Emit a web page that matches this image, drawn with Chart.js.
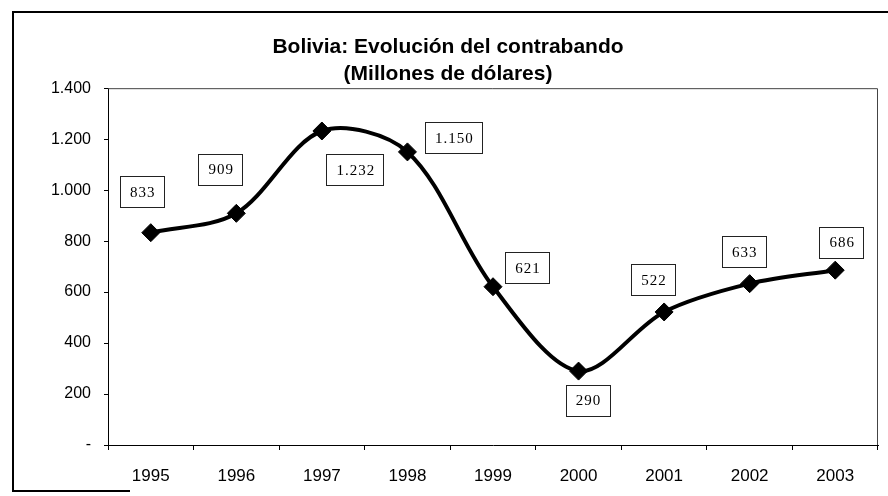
<!DOCTYPE html>
<html>
<head>
<meta charset="utf-8">
<script src="https://cdn.jsdelivr.net/npm/chart.js@4.4.1/dist/chart.umd.min.js"></script>
<style>
  html, body { margin: 0; padding: 0; background: #fff; }
  #wrap { width: 888px; height: 496px; }
</style>
</head>
<body>
<div id="wrap"><canvas id="chart" width="888" height="496"></canvas></div>
<script>
// datos del grafico
const years = ["1995", "1996", "1997", "1998", "1999", "2000", "2001", "2002", "2003"];
const contrabando = [833, 909, 1232, 1150, 621, 290, 522, 633, 686];
const yTicks = [0, 200, 400, 600, 800, 1000, 1200, 1400];
const titleLines = ["Bolivia: Evolución del contrabando", "(Millones de dólares)"];

// donde va cada cajita de valor respecto a su punto (px)
const labelOffsets = [[-9, -41], [-16, -44], [33, 39], [46, -14], [34, -19], [9, 29], [-11, -32], [-6, -32], [6, -28]];

const sans = '"Liberation Sans", Arial, sans-serif';
const serif = '"Liberation Serif", "Times New Roman", serif';

// 1.232 estilo espanol, el cero como guion
function fmt(v) {
  if (v === 0) return "-";
  return String(v).replace(/\B(?=(\d{3})+(?!\d))/g, ".");
}

// marco exterior + fondo blanco
const framePlugin = {
  id: "frame",
  beforeDraw(chart) {
    const ctx = chart.ctx;
    ctx.save();
    ctx.fillStyle = "#fff";
    ctx.fillRect(0, 0, chart.width, chart.height);
    ctx.strokeStyle = "#000";
    ctx.lineWidth = 2;
    ctx.beginPath();
    ctx.moveTo(888, 12);
    ctx.lineTo(13, 12);
    ctx.lineTo(13, 491);
    ctx.lineTo(130, 491);
    ctx.stroke();
    ctx.restore();
  }
};

// lados superior y derecho del area de trazado
const plotBorder = {
  id: "plotBorder",
  beforeDatasetsDraw(chart) {
    const { ctx, chartArea: a } = chart;
    ctx.save();
    ctx.strokeStyle = "#444";
    ctx.lineWidth = 1;
    ctx.beginPath();
    ctx.moveTo(a.left, a.top + 0.5);
    ctx.lineTo(a.right - 0.5, a.top + 0.5);
    ctx.lineTo(a.right - 0.5, a.bottom);
    ctx.stroke();
    ctx.restore();
  }
};

// etiquetas de valor en cajitas
const valueBoxes = {
  id: "valueBoxes",
  afterDatasetsDraw(chart) {
    const ctx = chart.ctx;
    const meta = chart.getDatasetMeta(0);
    ctx.save();
    ctx.font = "15px " + serif;
    if ("letterSpacing" in ctx) ctx.letterSpacing = "1px";
    ctx.textAlign = "center";
    ctx.textBaseline = "middle";
    meta.data.forEach((pt, i) => {
      const txt = fmt(contrabando[i]);
      const [dx, dy] = labelOffsets[i];
      const cx = pt.x + dx, cy = pt.y + dy;
      const w = Math.round(ctx.measureText(txt).width + 18);
      const h = 31;
      const x0 = Math.round(cx - w / 2) + 0.5, y0 = Math.round(cy - h / 2) + 0.5;
      ctx.fillStyle = "#fff";
      ctx.fillRect(x0, y0, w, h);
      ctx.strokeStyle = "#222";
      ctx.lineWidth = 1;
      ctx.strokeRect(x0, y0, w, h);
      ctx.fillStyle = "#000";
      ctx.fillText(txt, cx + 1, cy + 1);
    });
    ctx.restore();
  }
};

new Chart(document.getElementById("chart"), {
  type: "line",
  data: {
    labels: years,
    datasets: [{
      data: contrabando,
      borderColor: "#000",
      borderWidth: 4,
      tension: 0.32,
      fill: false,
      pointStyle: "rectRot",
      pointRadius: 9,
      pointBackgroundColor: "#000",
      pointBorderColor: "#000",
      pointBorderWidth: 1,
      clip: false
    }]
  },
  options: {
    responsive: false,
    animation: false,
    devicePixelRatio: 1,
    layout: { padding: { left: 14, right: 6, top: 34, bottom: 0 } },
    plugins: {
      legend: { display: false },
      tooltip: { enabled: false },
      title: {
        display: true,
        text: titleLines,
        color: "#000",
        font: { family: sans, size: 21, weight: "bold", lineHeight: 1.29 },
        padding: { top: 0, bottom: 0 }
      }
    },
    scales: {
      x: {
        offset: true,
        grid: { offset: true, drawOnChartArea: false, tickLength: 5, color: "#000" },
        border: { display: true, color: "#000", width: 1 },
        ticks: { color: "#000", font: { family: sans, size: 17 }, padding: 16, maxRotation: 0, autoSkip: false },
        afterFit(s) { s.height = 51; }
      },
      y: {
        min: 0,
        max: 1400,
        grid: { drawOnChartArea: false, tickLength: 4, color: "#000" },
        border: { display: true, color: "#000", width: 1 },
        ticks: { color: "#000", font: { family: sans, size: 16 }, padding: 13, callback: v => fmt(v) },
        afterBuildTicks(s) { s.ticks = yTicks.map(v => ({ value: v })); },
        afterFit(s) { s.width = 94; }
      }
    }
  },
  plugins: [framePlugin, plotBorder, valueBoxes]
});
</script>
</body>
</html>
